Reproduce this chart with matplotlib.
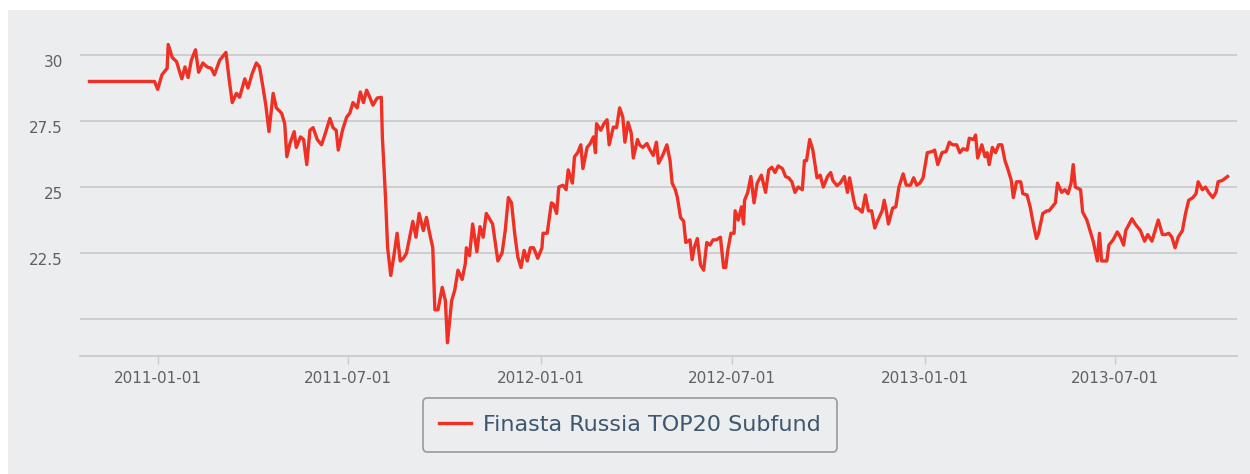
import matplotlib
matplotlib.use('Agg')
import matplotlib.pyplot as plt
from matplotlib.patches import Rectangle
import numpy as np
import pandas as pd

# days counted from 2011-01-01
day_offset = [-65, -36, -3, 0, 4, 9, 10, 14, 18, 21, 23, 26, 29, 32, 36, 39, 43, 47, 51, 54,
              59, 65, 68, 71, 75, 78, 83, 86, 90, 94, 97, 100, 103, 106, 110, 113, 118, 121, 123, 126,
              130, 132, 136, 139, 142, 145, 148, 152, 156, 159, 164, 167, 170, 172, 176, 180, 183, 186, 190, 193,
              196, 199, 202, 205, 209, 213, 214, 217, 219, 222, 225, 228, 231, 234, 237, 240, 243, 246, 249, 253,
              256, 259, 262, 264, 267, 271, 274, 276, 280, 283, 286, 290, 293, 294, 297, 300, 304, 307, 310, 313,
              316, 319, 324, 328, 331, 334, 337, 340, 343, 346, 349, 352, 355, 358, 362, 366, 367, 371, 375, 377,
              380, 382, 386, 389, 391, 395, 397, 400, 403, 405, 409, 412, 415, 417, 418, 422, 425, 428, 430, 434,
              437, 440, 443, 445, 448, 451, 453, 457, 459, 462, 466, 469, 472, 475, 477, 481, 485, 488, 490, 493,
              495, 498, 501, 503, 507, 509, 511, 514, 517, 520, 523, 526, 529, 532, 536, 539, 541, 543, 546, 549,
              550, 553, 556, 558, 559, 562, 565, 568, 571, 575, 579, 582, 585, 588, 591, 595, 598, 601, 604, 607,
              610, 614, 616, 618, 621, 624, 628, 631, 634, 638, 641, 643, 647, 650, 654, 657, 659, 663, 665, 667,
              671, 674, 677, 680, 683, 686, 690, 692, 694, 696, 700, 703, 706, 710, 713, 717, 720, 723, 726, 729,
              733, 738, 740, 743, 747, 751, 754, 757, 761, 764, 767, 771, 773, 777, 779, 781, 785, 788, 790, 792,
              795, 798, 801, 804, 807, 810, 813, 815, 818, 822, 824, 828, 831, 834, 837, 839, 843, 847, 849, 855,
              857, 861, 864, 867, 870, 872, 874, 879, 881, 885, 888, 891, 895, 897, 899, 904, 906, 910, 914, 917,
              920, 922, 928, 931, 936, 940, 943, 947, 950, 953, 957, 960, 963, 966, 969, 972, 976, 979, 982, 986,
              989, 991, 995, 998, 1001, 1005, 1008, 1010, 1014, 1019]

nav = [29.0, 29.0, 29.0, 28.7, 29.25, 29.5, 30.4, 29.9, 29.75, 29.35, 29.1, 29.55, 29.15, 29.8, 30.2, 29.35, 29.7, 29.55, 29.5, 29.25,
       29.8, 30.1, 29.1, 28.2, 28.55, 28.4, 29.1, 28.75, 29.3, 29.7, 29.55, 28.85, 28.1, 27.1, 28.55, 28.0, 27.8, 27.4, 26.15, 26.65,
       27.1, 26.5, 26.9, 26.8, 25.85, 27.15, 27.25, 26.8, 26.6, 26.95, 27.6, 27.25, 27.15, 26.4, 27.15, 27.65, 27.8, 28.2, 28.0, 28.6,
       28.2, 28.67, 28.4, 28.1, 28.37, 28.4, 26.9, 24.6, 22.7, 21.65, 22.4, 23.25, 22.2, 22.3, 22.5, 23.1, 23.7, 23.1, 24.0, 23.35,
       23.85, 23.25, 22.7, 20.35, 20.35, 21.2, 20.7, 19.1, 20.7, 21.1, 21.85, 21.5, 22.1, 22.7, 22.4, 23.6, 22.55, 23.5, 23.1, 24.0,
       23.8, 23.6, 22.2, 22.5, 23.35, 24.6, 24.4, 23.25, 22.35, 21.95, 22.6, 22.2, 22.7, 22.7, 22.3, 22.7, 23.25, 23.25, 24.4, 24.35,
       24.0, 25.0, 25.07, 24.9, 25.65, 25.15, 26.15, 26.3, 26.6, 25.7, 26.5, 26.65, 26.9, 26.3, 27.4, 27.15, 27.4, 27.55, 26.6, 27.27,
       27.25, 28.0, 27.65, 26.7, 27.45, 27.05, 26.1, 26.8, 26.6, 26.5, 26.65, 26.4, 26.2, 26.7, 25.9, 26.2, 26.6, 26.0, 25.15, 24.9,
       24.6, 23.85, 23.7, 22.9, 23.0, 22.25, 22.7, 23.05, 22.05, 21.85, 22.9, 22.8, 23.0, 23.0, 23.1, 21.95, 21.95, 22.6, 23.25, 23.25,
       24.1, 23.75, 24.25, 23.6, 24.5, 24.8, 25.4, 24.4, 25.15, 25.45, 24.8, 25.65, 25.75, 25.55, 25.8, 25.7, 25.4, 25.35, 25.2, 24.8,
       25.0, 24.9, 26.0, 26.0, 26.8, 26.4, 25.35, 25.45, 25.0, 25.4, 25.55, 25.25, 25.05, 25.15, 25.4, 24.8, 25.35, 24.5, 24.2, 24.2,
       24.05, 24.7, 24.1, 24.1, 23.45, 23.75, 24.1, 24.5, 24.1, 23.6, 24.2, 24.25, 25.0, 25.5, 25.07, 25.07, 25.35, 25.07, 25.15, 25.35,
       26.3, 26.35, 26.4, 25.85, 26.3, 26.35, 26.7, 26.6, 26.6, 26.3, 26.45, 26.4, 26.85, 26.8, 26.97, 26.1, 26.6, 26.15, 26.3, 25.85,
       26.5, 26.3, 26.6, 26.6, 26.0, 25.65, 25.25, 24.6, 25.2, 25.2, 24.75, 24.7, 24.25, 23.6, 23.05, 23.25, 24.0, 24.1, 24.1, 24.4,
       25.15, 24.8, 24.9, 24.75, 25.15, 25.85, 25.0, 24.9, 24.05, 23.75, 23.35, 22.95, 22.2, 23.25, 22.2, 22.2, 22.8, 23.0, 23.3, 23.1,
       22.8, 23.35, 23.8, 23.6, 23.35, 22.95, 23.2, 22.95, 23.35, 23.75, 23.2, 23.2, 23.25, 23.1, 22.7, 23.1, 23.35, 24.0, 24.5, 24.6,
       24.75, 25.2, 24.9, 25.0, 24.8, 24.6, 24.8, 25.2, 25.25, 25.4]

series_name = 'Finasta Russia TOP20 Subfund'
y_ticks = [20, 22.5, 25, 27.5, 30]
y_labels = ['', '22.5', '25', '27.5', '30']
x_ticks = ['2011-01-01', '2011-07-01', '2012-01-01', '2012-07-01', '2013-01-01', '2013-07-01']

bg = '#ecedef'
grid_col = '#cbcbcb'
text_col = '#606060'

dates = pd.Timestamp('2011-01-01') + pd.to_timedelta(day_offset, unit='D')

fig = plt.figure(figsize=(12.5, 4.74), dpi=100, facecolor='white')
fig.patches.append(Rectangle((8 / 1250, 0), 1, 1 - 10 / 474, transform=fig.transFigure,
                             facecolor=bg, edgecolor='none', zorder=-10))
ax = fig.add_axes([80 / 1250, 118 / 474, 1157 / 1250, 321 / 474])
ax.set_facecolor('none')

ax.plot(dates, nav, color='#ee3124', lw=2.4, label=series_name, zorder=3,
        solid_joinstyle='round')

ax.set_xlim(pd.Timestamp('2010-10-19'), pd.Timestamp('2013-10-25'))
ax.set_ylim(18.6, 30.76)

ax.set_yticks(y_ticks)
ax.set_yticklabels([])
ax.set_xticks(pd.to_datetime(x_ticks))
ax.set_xticklabels(x_ticks)

# y labels sit a little under their grid lines, like the original
for v, lab in zip(y_ticks, y_labels):
    ax.annotate(lab, xy=(0, v), xycoords=('axes fraction', 'data'),
                xytext=(-17, -7), textcoords='offset pixels',
                ha='right', va='center', fontsize=11, color=text_col)

ax.grid(axis='y', color=grid_col, lw=1.3)
ax.set_axisbelow(True)
for s in ['top', 'right', 'left']:
    ax.spines[s].set_visible(False)
ax.spines['bottom'].set_color(grid_col)
ax.spines['bottom'].set_linewidth(1.3)

ax.tick_params(axis='y', length=0)
ax.tick_params(axis='x', length=6, width=1, color=grid_col, pad=5, labelsize=11, labelcolor=text_col)

leg = fig.legend(loc='center', bbox_to_anchor=(630 / 1250, 1 - 425 / 474),
                 frameon=True, fancybox=True, fontsize=16, handlelength=1.4,
                 borderpad=0.75, handletextpad=0.55, labelcolor='#3e576f')
leg.get_frame().set_facecolor(bg)
leg.get_frame().set_edgecolor('#9a9a9a')
leg.get_frame().set_linewidth(1.2)
leg.get_frame().set_alpha(1)

fig.savefig('out.png', dpi=100, facecolor='white')
